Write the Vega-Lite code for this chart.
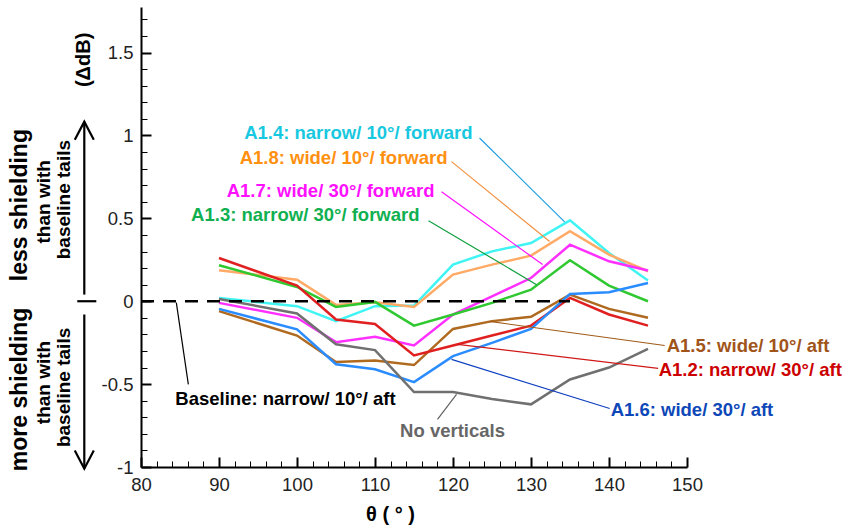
{
  "$schema": "https://vega.github.io/schema/vega-lite/v6.json",
  "width": 546,
  "height": 460,
  "autosize": {"type": "none"},
  "padding": {"left": 141, "top": 7, "right": 156, "bottom": 60},
  "background": "white",
  "config": {"view": {"stroke": null}, "font": "Liberation Sans"},
  "resolve": {"scale": {"color": "independent"}, "axis": {"x": "independent", "y": "independent"}},
  "datasets": {
    "curves": [
      {"s": "A1.4", "x": 90, "y": 0.02}, {"s": "A1.4", "x": 100, "y": -0.03}, {"s": "A1.4", "x": 105, "y": -0.12}, {"s": "A1.4", "x": 110, "y": -0.03}, {"s": "A1.4", "x": 115, "y": -0.026}, {"s": "A1.4", "x": 120, "y": 0.221}, {"s": "A1.4", "x": 125, "y": 0.301}, {"s": "A1.4", "x": 130, "y": 0.351}, {"s": "A1.4", "x": 135, "y": 0.488}, {"s": "A1.4", "x": 140, "y": 0.291}, {"s": "A1.4", "x": 145, "y": 0.125},
      {"s": "A1.8", "x": 90, "y": 0.187}, {"s": "A1.8", "x": 100, "y": 0.13}, {"s": "A1.8", "x": 105, "y": -0.022}, {"s": "A1.8", "x": 110, "y": -0.006}, {"s": "A1.8", "x": 115, "y": -0.034}, {"s": "A1.8", "x": 120, "y": 0.161}, {"s": "A1.8", "x": 125, "y": 0.221}, {"s": "A1.8", "x": 130, "y": 0.275}, {"s": "A1.8", "x": 135, "y": 0.422}, {"s": "A1.8", "x": 140, "y": 0.281}, {"s": "A1.8", "x": 145, "y": 0.181},
      {"s": "A1.7", "x": 90, "y": -0.01}, {"s": "A1.7", "x": 100, "y": -0.1}, {"s": "A1.7", "x": 105, "y": -0.247}, {"s": "A1.7", "x": 110, "y": -0.215}, {"s": "A1.7", "x": 115, "y": -0.267}, {"s": "A1.7", "x": 120, "y": -0.08}, {"s": "A1.7", "x": 125, "y": 0.03}, {"s": "A1.7", "x": 130, "y": 0.14}, {"s": "A1.7", "x": 135, "y": 0.341}, {"s": "A1.7", "x": 140, "y": 0.241}, {"s": "A1.7", "x": 145, "y": 0.185},
      {"s": "A1.3", "x": 90, "y": 0.217}, {"s": "A1.3", "x": 100, "y": 0.086}, {"s": "A1.3", "x": 105, "y": -0.034}, {"s": "A1.3", "x": 110, "y": -0.004}, {"s": "A1.3", "x": 115, "y": -0.147}, {"s": "A1.3", "x": 120, "y": -0.08}, {"s": "A1.3", "x": 125, "y": -0.01}, {"s": "A1.3", "x": 130, "y": 0.07}, {"s": "A1.3", "x": 135, "y": 0.247}, {"s": "A1.3", "x": 140, "y": 0.094}, {"s": "A1.3", "x": 145, "y": 0.0},
      {"s": "A1.5", "x": 90, "y": -0.06}, {"s": "A1.5", "x": 100, "y": -0.207}, {"s": "A1.5", "x": 105, "y": -0.367}, {"s": "A1.5", "x": 110, "y": -0.357}, {"s": "A1.5", "x": 115, "y": -0.385}, {"s": "A1.5", "x": 120, "y": -0.167}, {"s": "A1.5", "x": 125, "y": -0.12}, {"s": "A1.5", "x": 130, "y": -0.094}, {"s": "A1.5", "x": 135, "y": 0.04}, {"s": "A1.5", "x": 140, "y": -0.046}, {"s": "A1.5", "x": 145, "y": -0.1},
      {"s": "A1.2", "x": 90, "y": 0.261}, {"s": "A1.2", "x": 100, "y": 0.094}, {"s": "A1.2", "x": 105, "y": -0.11}, {"s": "A1.2", "x": 110, "y": -0.137}, {"s": "A1.2", "x": 115, "y": -0.327}, {"s": "A1.2", "x": 120, "y": -0.267}, {"s": "A1.2", "x": 125, "y": -0.207}, {"s": "A1.2", "x": 130, "y": -0.147}, {"s": "A1.2", "x": 135, "y": 0.02}, {"s": "A1.2", "x": 140, "y": -0.08}, {"s": "A1.2", "x": 145, "y": -0.147},
      {"s": "A1.6", "x": 90, "y": -0.046}, {"s": "A1.6", "x": 100, "y": -0.17}, {"s": "A1.6", "x": 105, "y": -0.38}, {"s": "A1.6", "x": 110, "y": -0.41}, {"s": "A1.6", "x": 115, "y": -0.488}, {"s": "A1.6", "x": 120, "y": -0.331}, {"s": "A1.6", "x": 125, "y": -0.251}, {"s": "A1.6", "x": 130, "y": -0.167}, {"s": "A1.6", "x": 135, "y": 0.044}, {"s": "A1.6", "x": 140, "y": 0.054}, {"s": "A1.6", "x": 145, "y": 0.11},
      {"s": "No verticals", "x": 90, "y": 0.014}, {"s": "No verticals", "x": 100, "y": -0.074}, {"s": "No verticals", "x": 105, "y": -0.26}, {"s": "No verticals", "x": 110, "y": -0.295}, {"s": "No verticals", "x": 115, "y": -0.548}, {"s": "No verticals", "x": 120, "y": -0.548}, {"s": "No verticals", "x": 125, "y": -0.59}, {"s": "No verticals", "x": 130, "y": -0.622}, {"s": "No verticals", "x": 135, "y": -0.472}, {"s": "No verticals", "x": 140, "y": -0.4}, {"s": "No verticals", "x": 145, "y": -0.287}
    ],
    "base": [{"x": 80, "y": 0}, {"x": 135, "y": 0}],
    "leaders": [
      {"s": "A1.4", "x": 123.4, "y": 0.985, "x2": 134.31, "y2": 0.479},
      {"s": "A1.8", "x": 119.81, "y": 0.842, "x2": 132.39, "y2": 0.36},
      {"s": "A1.7", "x": 118.53, "y": 0.661, "x2": 131.49, "y2": 0.221},
      {"s": "A1.3", "x": 116.86, "y": 0.486, "x2": 130.72, "y2": 0.1},
      {"s": "A1.5", "x": 124.69, "y": -0.122, "x2": 147.14, "y2": -0.267},
      {"s": "A1.2", "x": 120.58, "y": -0.26, "x2": 146.3, "y2": -0.405},
      {"s": "A1.6", "x": 119.81, "y": -0.351, "x2": 140.09, "y2": -0.647},
      {"s": "No verticals", "x": 120.45, "y": -0.562, "x2": 118.01, "y2": -0.713},
      {"s": "Baseline", "x": 84.53, "y": -0.008, "x2": 86.07, "y2": -0.502}
    ],
    "labelsRight": [
      {"s": "A1.4", "t": "A1.4: narrow/ 10°/ forward", "x": 122.51, "y": 1.016},
      {"s": "A1.8", "t": "A1.8: wide/ 10°/ forward", "x": 119.3, "y": 0.863},
      {"s": "A1.7", "t": "A1.7: wide/ 30°/ forward", "x": 117.63, "y": 0.667},
      {"s": "A1.3", "t": "A1.3: narrow/ 30°/ forward", "x": 115.71, "y": 0.522}
    ],
    "labelsLeft": [
      {"s": "A1.5", "t": "A1.5: wide/ 10°/ aft", "x": 147.4, "y": -0.27},
      {"s": "A1.2", "t": "A1.2: narrow/ 30°/ aft", "x": 146.37, "y": -0.417},
      {"s": "A1.6", "t": "A1.6: wide/ 30°/ aft", "x": 140.21, "y": -0.658},
      {"s": "Baseline", "t": "Baseline: narrow/ 10°/ aft", "x": 84.4, "y": -0.589}
    ],
    "labelsCenter": [
      {"s": "No verticals", "t": "No verticals", "x": 119.94, "y": -0.785}
    ],
    "side1": [
      {"t": "less shielding", "x": 64.53, "y": 0.58},
      {"t": "more shielding", "x": 64.53, "y": -0.532}
    ],
    "side2": [
      {"t": "than with", "x": 67.6, "y": 0.6},
      {"t": "baseline tails", "x": 70.1, "y": 0.613},
      {"t": "than with", "x": 67.6, "y": -0.49},
      {"t": "baseline tails", "x": 70.1, "y": -0.52}
    ],
    "unit": [{"t": "(ΔdB)", "x": 72.73, "y": 1.456}],
    "arrows": [
      {"x": 72.73, "y": 0.04, "x2": 72.73, "y2": 1.083},
      {"x": 72.73, "y": -0.08, "x2": 72.73, "y2": -1.01},
      {"x": 71.83, "y": 0, "x2": 74.27, "y2": 0}
    ],
    "heads": [
      {"d": "up", "x": 72.73, "y": 1.083},
      {"d": "down", "x": 72.73, "y": -1.01}
    ]
  },
  "layer": [
    {
      "data": {"name": "curves"},
      "mark": {"type": "line", "strokeWidth": 2.5},
      "encoding": {
        "x": {"field": "x", "type": "quantitative", "scale": {"domain": [80, 150], "nice": false, "zero": false},
          "axis": {"orient": "bottom", "values": [80, 90, 100, 110, 120, 130, 140, 150], "grid": false, "tickSize": -10, "tickWidth": 2, "tickColor": "black", "domainColor": "black", "domainWidth": 2, "labelFlush": false, "labelFontSize": 18.5, "labelColor": "#222", "labelPadding": 18, "labelExpr": "datum.value + ''", "title": "θ ( ° )", "titleFontSize": 20, "titleFontWeight": "bold", "titleColor": "black", "titleX": 249, "titleY": 47, "titleAlign": "center", "titleBaseline": "middle", "titleAnchor": null}},
        "y": {"field": "y", "type": "quantitative", "scale": {"domain": [-1, 1.775], "nice": false, "zero": false},
          "axis": {"orient": "left", "values": [-1, -0.5, 0, 0.5, 1, 1.5], "grid": false, "tickSize": -10, "tickWidth": 2, "tickColor": "black", "domainColor": "black", "domainWidth": 2, "labelFlush": false, "labelFontSize": 18.5, "labelColor": "#222", "labelPadding": 18, "labelExpr": "datum.value + ''", "title": null}},
        "color": {"field": "s", "type": "nominal", "legend": null,
          "scale": {"domain": ["A1.2", "A1.3", "A1.4", "A1.5", "A1.6", "A1.7", "A1.8", "No verticals"],
                    "range": ["#e02020", "#30c830", "#40f4f4", "#b06a20", "#2a8cff", "#ff30ff", "#ffaa66", "#707070"]}}
      }
    },
    {
      "data": {"name": "base"},
      "mark": {"type": "line", "strokeWidth": 2.5, "strokeDash": [13, 9], "color": "black"},
      "encoding": {
        "x": {"field": "x", "type": "quantitative", "scale": {"domain": [80, 150], "nice": false, "zero": false},
          "axis": {"orient": "bottom", "values": [82, 84, 86, 88, 92, 94, 96, 98, 102, 104, 106, 108, 112, 114, 116, 118, 122, 124, 126, 128, 132, 134, 136, 138, 142, 144, 146, 148], "grid": false, "labels": false, "domain": false, "tickSize": -6, "tickWidth": 1, "tickColor": "black", "title": null}},
        "y": {"field": "y", "type": "quantitative", "scale": {"domain": [-1, 1.775], "nice": false, "zero": false},
          "axis": {"orient": "left", "values": [-0.9, -0.8, -0.7, -0.6, -0.4, -0.3, -0.2, -0.1, 0.1, 0.2, 0.3, 0.4, 0.6, 0.7, 0.8, 0.9, 1.1, 1.2, 1.3, 1.4, 1.6, 1.7], "grid": false, "labels": false, "domain": false, "tickSize": -6, "tickWidth": 1, "tickColor": "black", "title": null}}
      }
    },
    {
      "data": {"name": "leaders"},
      "mark": {"type": "rule", "strokeWidth": 1.2},
      "encoding": {
        "x": {"field": "x", "type": "quantitative", "scale": {"domain": [80, 150], "nice": false, "zero": false}, "axis": null},
        "y": {"field": "y", "type": "quantitative", "scale": {"domain": [-1, 1.775], "nice": false, "zero": false}, "axis": null},
        "x2": {"field": "x2"},
        "y2": {"field": "y2"},
        "color": {"field": "s", "type": "nominal", "legend": null,
          "scale": {"domain": ["A1.2", "A1.3", "A1.4", "A1.5", "A1.6", "A1.7", "A1.8", "No verticals", "Baseline"],
                    "range": ["#d01818", "#10a040", "#1e9ee0", "#a05a18", "#1040c0", "#ff10ff", "#f09040", "#606060", "#000000"]}}
      }
    },
    {
      "data": {"name": "labelsRight"},
      "mark": {"type": "text", "align": "right", "baseline": "middle", "fontSize": 18.5, "fontWeight": "bold"},
      "encoding": {
        "x": {"field": "x", "type": "quantitative", "scale": {"domain": [80, 150], "nice": false, "zero": false}, "axis": null},
        "y": {"field": "y", "type": "quantitative", "scale": {"domain": [-1, 1.775], "nice": false, "zero": false}, "axis": null},
        "text": {"field": "t"},
        "color": {"field": "s", "type": "nominal", "legend": null,
          "scale": {"domain": ["A1.2", "A1.3", "A1.4", "A1.5", "A1.6", "A1.7", "A1.8", "No verticals", "Baseline"],
                    "range": ["#cc0000", "#10b050", "#18c8e0", "#a0541a", "#0d47b8", "#ff10ff", "#ff9010", "#666666", "#000000"]}}
      }
    },
    {
      "data": {"name": "labelsLeft"},
      "mark": {"type": "text", "align": "left", "baseline": "middle", "fontSize": 18.5, "fontWeight": "bold"},
      "encoding": {
        "x": {"field": "x", "type": "quantitative", "scale": {"domain": [80, 150], "nice": false, "zero": false}, "axis": null},
        "y": {"field": "y", "type": "quantitative", "scale": {"domain": [-1, 1.775], "nice": false, "zero": false}, "axis": null},
        "text": {"field": "t"},
        "color": {"field": "s", "type": "nominal", "legend": null,
          "scale": {"domain": ["A1.2", "A1.3", "A1.4", "A1.5", "A1.6", "A1.7", "A1.8", "No verticals", "Baseline"],
                    "range": ["#cc0000", "#10b050", "#18c8e0", "#a0541a", "#0d47b8", "#ff10ff", "#ff9010", "#666666", "#000000"]}}
      }
    },
    {
      "data": {"name": "labelsCenter"},
      "mark": {"type": "text", "align": "center", "baseline": "middle", "fontSize": 18.5, "fontWeight": "bold", "color": "#666666"},
      "encoding": {
        "x": {"field": "x", "type": "quantitative", "scale": {"domain": [80, 150], "nice": false, "zero": false}, "axis": null},
        "y": {"field": "y", "type": "quantitative", "scale": {"domain": [-1, 1.775], "nice": false, "zero": false}, "axis": null},
        "text": {"field": "t"}
      }
    },
    {
      "data": {"name": "side1"},
      "mark": {"type": "text", "align": "center", "baseline": "middle", "angle": 270, "fontSize": 23, "fontWeight": "bold", "color": "black"},
      "encoding": {
        "x": {"field": "x", "type": "quantitative", "scale": {"domain": [80, 150], "nice": false, "zero": false}, "axis": null},
        "y": {"field": "y", "type": "quantitative", "scale": {"domain": [-1, 1.775], "nice": false, "zero": false}, "axis": null},
        "text": {"field": "t"}
      }
    },
    {
      "data": {"name": "side2"},
      "mark": {"type": "text", "align": "center", "baseline": "middle", "angle": 270, "fontSize": 19, "fontWeight": "bold", "color": "black"},
      "encoding": {
        "x": {"field": "x", "type": "quantitative", "scale": {"domain": [80, 150], "nice": false, "zero": false}, "axis": null},
        "y": {"field": "y", "type": "quantitative", "scale": {"domain": [-1, 1.775], "nice": false, "zero": false}, "axis": null},
        "text": {"field": "t"}
      }
    },
    {
      "data": {"name": "unit"},
      "mark": {"type": "text", "align": "center", "baseline": "middle", "angle": 270, "fontSize": 20, "fontWeight": "bold", "color": "black"},
      "encoding": {
        "x": {"field": "x", "type": "quantitative", "scale": {"domain": [80, 150], "nice": false, "zero": false}, "axis": null},
        "y": {"field": "y", "type": "quantitative", "scale": {"domain": [-1, 1.775], "nice": false, "zero": false}, "axis": null},
        "text": {"field": "t"}
      }
    },
    {
      "data": {"name": "arrows"},
      "mark": {"type": "rule", "strokeWidth": 2.2, "color": "black"},
      "encoding": {
        "x": {"field": "x", "type": "quantitative", "scale": {"domain": [80, 150], "nice": false, "zero": false}, "axis": null},
        "y": {"field": "y", "type": "quantitative", "scale": {"domain": [-1, 1.775], "nice": false, "zero": false}, "axis": null},
        "x2": {"field": "x2"},
        "y2": {"field": "y2"}
      }
    },
    {
      "data": {"name": "heads"},
      "mark": {"type": "point", "filled": false, "size": 361, "strokeWidth": 2.2, "color": "black", "opacity": 1},
      "encoding": {
        "x": {"field": "x", "type": "quantitative", "scale": {"domain": [80, 150], "nice": false, "zero": false}, "axis": null},
        "y": {"field": "y", "type": "quantitative", "scale": {"domain": [-1, 1.775], "nice": false, "zero": false}, "axis": null},
        "shape": {"field": "d", "type": "nominal", "legend": null,
          "scale": {"domain": ["up", "down"], "range": ["M-1,1.9L0,0L1,1.9", "M-1,-1.9L0,0L1,-1.9"]}}
      }
    }
  ]
}
